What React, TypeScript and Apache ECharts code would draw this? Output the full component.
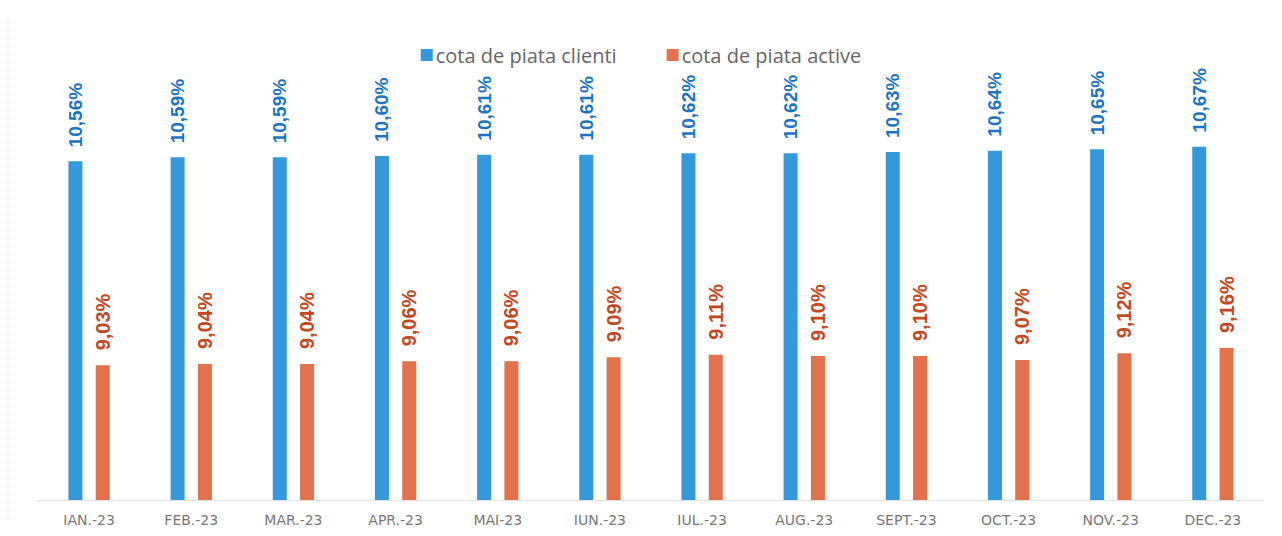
import React, { useEffect, useRef } from "react";
import * as echarts from "echarts";

const categories = ["IAN.-23", "FEB.-23", "MAR.-23", "APR.-23", "MAI-23", "IUN.-23", "IUL.-23", "AUG.-23", "SEPT.-23", "OCT.-23", "NOV.-23", "DEC.-23"];
const clienti = [10.56, 10.59, 10.59, 10.6, 10.61, 10.61, 10.62, 10.62, 10.63, 10.64, 10.65, 10.67];
const active = [9.03, 9.04, 9.04, 9.06, 9.06, 9.09, 9.11, 9.1, 9.1, 9.07, 9.12, 9.16];
const seriesNames = ["cota de piata clienti", "cota de piata active"];

const fmt = (p: any) => Number(p.value).toFixed(2).replace(".", ",") + "%";

export default function App() {
  const ref = useRef<HTMLDivElement>(null);
  useEffect(() => {
    const chart = echarts.init(ref.current!, null, { renderer: "svg" });
    chart.setOption({
      animation: false,
      backgroundColor: "#ffffff",
      legend: {
        top: 40,
        left: "center",
        itemWidth: 12,
        itemHeight: 12,
        itemGap: 50,
        icon: "rect",
        textStyle: { fontFamily: "Open Sans", fontSize: 20, color: "#666666", padding: [0, 0, 0, -2] },
        data: seriesNames,
      },
      grid: { left: 38, right: 18, top: 100, bottom: 36 },
      xAxis: {
        type: "category",
        data: categories,
        axisLine: { show: true, lineStyle: { color: "#e2e2e2", width: 1 } },
        axisTick: { show: false },
        axisLabel: { fontFamily: "DejaVu Sans", fontSize: 14, color: "#777777", margin: 13 },
      },
      yAxis: {
        type: "value",
        min: 8.02,
        max: 11.02,
        show: false,
        splitLine: { show: false },
      },
      graphic: [
        {
          type: "line",
          shape: { x1: 8, y1: 20, x2: 8, y2: 520 },
          style: { stroke: "#ececec", lineWidth: 1, lineDash: [3, 5] },
          silent: true,
        },
      ],
      series: [
        {
          name: seriesNames[0],
          type: "bar",
          data: clienti,
          barWidth: 14,
          barGap: "95%",
          itemStyle: { color: "#3498dc" },
          label: {
            show: true,
            position: "top",
            rotate: 90,
            align: "left",
            verticalAlign: "middle",
            distance: 14,
            formatter: fmt,
            fontFamily: "Liberation Sans",
            fontWeight: "bold",
            fontSize: 19,
            color: "#1a73c4",
          },
        },
        {
          name: seriesNames[1],
          type: "bar",
          data: active,
          barWidth: 14,
          itemStyle: { color: "#e2714c" },
          label: {
            show: true,
            position: "top",
            rotate: 90,
            align: "left",
            verticalAlign: "middle",
            distance: 15,
            formatter: fmt,
            fontFamily: "Liberation Sans",
            fontWeight: "bold",
            fontSize: 20,
            color: "#c4471f",
          },
        },
      ],
    });
    return () => chart.dispose();
  }, []);
  return (
    <div
      ref={ref}
      style={{ position: "fixed", left: 0, top: 0, width: 1282, height: 536 }}
    />
  );
}
